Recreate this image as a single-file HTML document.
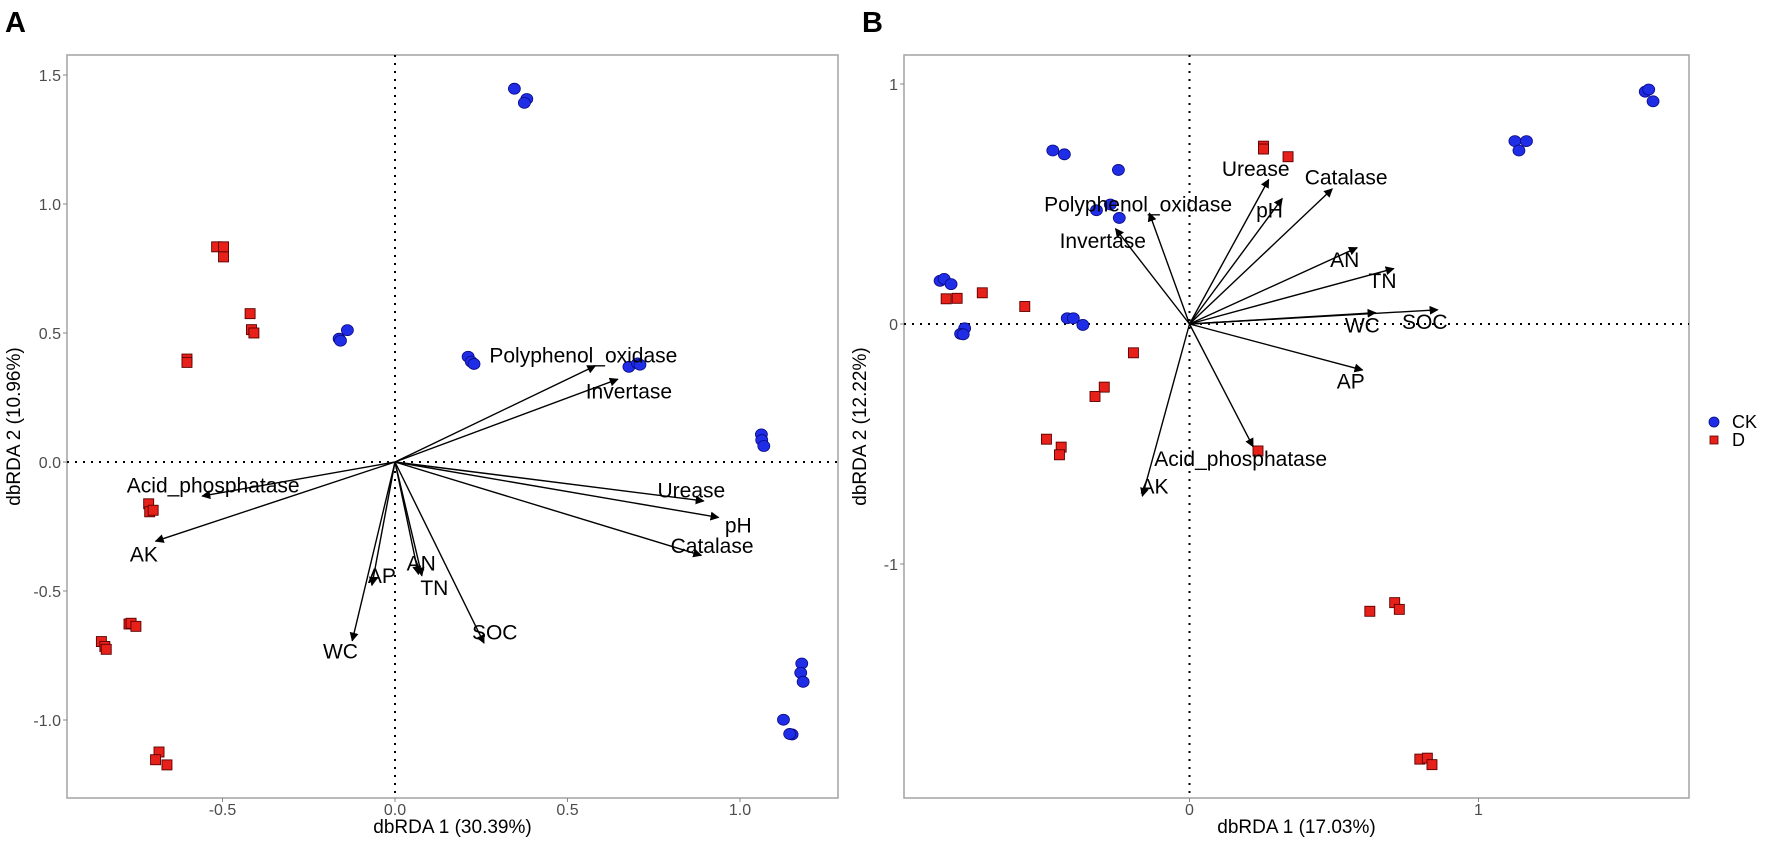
<!DOCTYPE html>
<html><head><meta charset="utf-8"><style>
html,body{margin:0;padding:0;background:#fff;}
svg{display:block;font-family:"Liberation Sans",Arial,sans-serif;}
</style></head><body>
<svg id="fig" width="1772" height="841" viewBox="0 0 1772 841">
<defs><marker id="ah" viewBox="0 0 10 10" refX="9" refY="5" markerWidth="9" markerHeight="9" orient="auto" markerUnits="userSpaceOnUse"><path d="M0,0 L10,5 L0,10 z" fill="#000"/></marker></defs>
<text x="5" y="32" font-size="29" font-weight="bold">A</text>
<text x="862" y="32" font-size="29" font-weight="bold">B</text>
<g id="panelA"></g>
<g id="panelB"></g>
<g>
<ellipse cx="1714" cy="422" rx="5" ry="5" fill="#1f2de6" stroke="#0a0a80" stroke-width="0.8"/>
<text x="1732" y="428" font-size="18">CK</text>
<rect x="1710" y="436" width="8" height="8" fill="#e8201a" stroke="#5a0000" stroke-width="0.8"/>
<text x="1732" y="446" font-size="18">D</text>
</g>
</svg>
<script>
// Panel A data
const aCkX=[0.346,0.382,0.375,-0.138,-0.162,-0.158,0.212,0.221,0.229,0.678,0.703,0.710,1.062,1.063,1.069,1.179,1.176,1.183,1.126,1.151,1.144];
const aCkY=[1.447,1.407,1.392,0.511,0.478,0.470,0.408,0.389,0.380,0.369,0.382,0.377,0.107,0.085,0.062,-0.781,-0.817,-0.852,-0.999,-1.056,-1.054];
const aDX=[-0.517,-0.497,-0.497,-0.420,-0.416,-0.409,-0.603,-0.603,-0.714,-0.711,-0.701,-0.771,-0.765,-0.751,-0.851,-0.841,-0.837,-0.684,-0.694,-0.661];
const aDY=[0.834,0.834,0.795,0.575,0.513,0.500,0.399,0.386,-0.162,-0.193,-0.187,-0.628,-0.625,-0.637,-0.696,-0.715,-0.726,-1.124,-1.154,-1.174];
const aVarNames=["Polyphenol_oxidase","Invertase","Urease","pH","Catalase","SOC","TN","AN","AP","WC","AK","Acid_phosphatase"];
const aVarX=[0.581,0.646,0.895,0.938,0.888,0.258,0.078,0.068,-0.067,-0.124,-0.694,-0.559];
const aVarY=[0.373,0.321,-0.151,-0.215,-0.362,-0.702,-0.441,-0.435,-0.478,-0.693,-0.307,-0.132];
const aLabX=[0.546,0.678,0.859,0.995,0.919,0.289,0.114,0.076,-0.038,-0.158,-0.728,-0.527];
const aLabY=[0.413,0.274,-0.110,-0.246,-0.325,-0.661,-0.489,-0.393,-0.441,-0.735,-0.358,-0.092];
const aXTicks=[-0.5,0,0.5,1.0];
const aXTickLabels=["-0.5","0.0","0.5","1.0"];
const aYTicks=[-1.0,-0.5,0,0.5,1.0,1.5];
const aYTickLabels=["-1.0","-0.5","0.0","0.5","1.0","1.5"];
// Panel B data
const bCkX=[1.577,1.589,1.604,1.126,1.166,1.140,-0.473,-0.433,-0.246,-0.322,-0.274,-0.243,-0.863,-0.849,-0.825,-0.778,-0.792,-0.783,-0.423,-0.402,-0.369];
const bCkY=[0.968,0.977,0.928,0.762,0.762,0.723,0.723,0.707,0.642,0.474,0.498,0.442,0.180,0.188,0.166,-0.018,-0.041,-0.043,0.024,0.024,-0.004];
const bDX=[0.256,0.256,0.341,-0.842,-0.804,-0.717,-0.570,-0.194,-0.295,-0.327,-0.495,-0.444,-0.450,0.237,0.624,0.710,0.726,0.797,0.823,0.839];
const bDY=[0.741,0.729,0.697,0.105,0.107,0.130,0.073,-0.120,-0.263,-0.302,-0.480,-0.513,-0.545,-0.529,-1.197,-1.161,-1.189,-1.813,-1.809,-1.836];
const bVarNames=["Urease","pH","Catalase","Polyphenol_oxidase","Invertase","AN","TN","WC","SOC","AP","Acid_phosphatase","AK"];
const bVarX=[0.274,0.321,0.494,-0.139,-0.256,0.580,0.707,0.644,0.859,0.599,0.220,-0.163];
const bVarY=[0.602,0.523,0.563,0.462,0.397,0.318,0.231,0.047,0.059,-0.192,-0.511,-0.717];
const bLabX=[0.229,0.277,0.542,-0.178,-0.300,0.537,0.668,0.598,0.814,0.558,0.177,-0.121];
const bLabY=[0.646,0.472,0.610,0.498,0.346,0.267,0.180,-0.006,0.008,-0.239,-0.563,-0.677];
const bXTicks=[0,1];
const bXTickLabels=["0","1"];
const bYTicks=[-1,0,1];
const bYTickLabels=["-1","0","1"];

const NS="http://www.w3.org/2000/svg";
function mk(parent,tag,attrs){const e=document.createElementNS(NS,tag);for(const k in attrs)e.setAttribute(k,attrs[k]);parent.appendChild(e);return e;}

function drawPanel(g,cfg){
  const sx=v=>cfg.x0+v*cfg.kx, sy=v=>cfg.y0-v*cfg.ky;
  const fr=mk(g,'rect',{x:cfg.L,y:cfg.T,width:cfg.R-cfg.L,height:cfg.B-cfg.T,fill:'#fff',stroke:'#a8a8a8','stroke-width':1.6});
  
  
  const hl=mk(g,'line',{x1:cfg.L,x2:cfg.R,y1:sy(0),y2:sy(0),stroke:'#000','stroke-width':2,'stroke-dasharray':'2 6'});
  
  
  const vl=mk(g,'line',{x1:sx(0),x2:sx(0),y1:cfg.T,y2:cfg.B,stroke:'#000','stroke-width':2,'stroke-dasharray':'2 6'});
  
  
  cfg.xt.forEach((v,i)=>{
    mk(g,'line',{x1:sx(v),x2:sx(v),y1:cfg.B,y2:cfg.B+4,stroke:'#888'});
    const t=mk(g,'text',{x:sx(v),y:cfg.B+17,'font-size':16,fill:'#4d4d4d','text-anchor':'middle'});
    t.textContent=cfg.xtl[i];
    
    
  });
  cfg.yt.forEach((v,i)=>{
    mk(g,'line',{x1:cfg.L-4,x2:cfg.L,y1:sy(v),y2:sy(v),stroke:'#888'});
    const t=mk(g,'text',{x:cfg.L-6,y:sy(v)+6,'font-size':16,fill:'#4d4d4d','text-anchor':'end'});
    t.textContent=cfg.ytl[i];
    
    
  });
  const xtT=mk(g,'text',{x:(cfg.L+cfg.R)/2,y:cfg.B+35,'font-size':19,'text-anchor':'middle'});
  xtT.textContent=cfg.xTitle;
  
  
  const ytT=mk(g,'text',{x:0,y:0,'font-size':19,'text-anchor':'middle',transform:`translate(${cfg.yTitleX},${(cfg.T+cfg.B)/2}) rotate(-90)`});
  ytT.textContent=cfg.yTitle;
  
  
  cfg.ckX.forEach((v,i)=>{
    const c=mk(g,'ellipse',{cx:sx(v),cy:sy(cfg.ckY[i]),rx:6,ry:5.5,fill:'#1f2de6',stroke:'#0a0a80','stroke-width':0.8});
    
    
  });
  cfg.dX.forEach((v,i)=>{
    const r=mk(g,'rect',{x:sx(v)-5,y:sy(cfg.dY[i])-5,width:10,height:10,fill:'#e8201a',stroke:'#5a0000','stroke-width':0.9});
    
    
  });
  cfg.vn.forEach((n,i)=>{
    const a=mk(g,'line',{x1:sx(0),y1:sy(0),x2:sx(cfg.vx[i]),y2:sy(cfg.vy[i]),stroke:'#000','stroke-width':1.4,'marker-end':'url(#ah)'});
    
    
    const t=mk(g,'text',{x:sx(cfg.lx[i]),y:sy(cfg.ly[i])+7,'font-size':21,'text-anchor':'middle'});
    t.textContent=n;
    
    
  });
}
drawPanel(document.getElementById('panelA'),{L:67,R:838,T:55,B:798,x0:395,y0:462,kx:345,ky:258,
  xt:aXTicks,xtl:aXTickLabels,yt:aYTicks,ytl:aYTickLabels,xTitle:'dbRDA 1 (30.39%)',yTitle:'dbRDA 2 (10.96%)',yTitleX:20,
  ckX:aCkX,ckY:aCkY,dX:aDX,dY:aDY,vn:aVarNames,vx:aVarX,vy:aVarY,lx:aLabX,ly:aLabY});
drawPanel(document.getElementById('panelB'),{L:904,R:1689,T:55,B:798,x0:1189.5,y0:324,kx:289,ky:240,
  xt:bXTicks,xtl:bXTickLabels,yt:bYTicks,ytl:bYTickLabels,xTitle:'dbRDA 1 (17.03%)',yTitle:'dbRDA 2 (12.22%)',yTitleX:866,
  ckX:bCkX,ckY:bCkY,dX:bDX,dY:bDY,vn:bVarNames,vx:bVarX,vy:bVarY,lx:bLabX,ly:bLabY});
</script>
</body></html>
